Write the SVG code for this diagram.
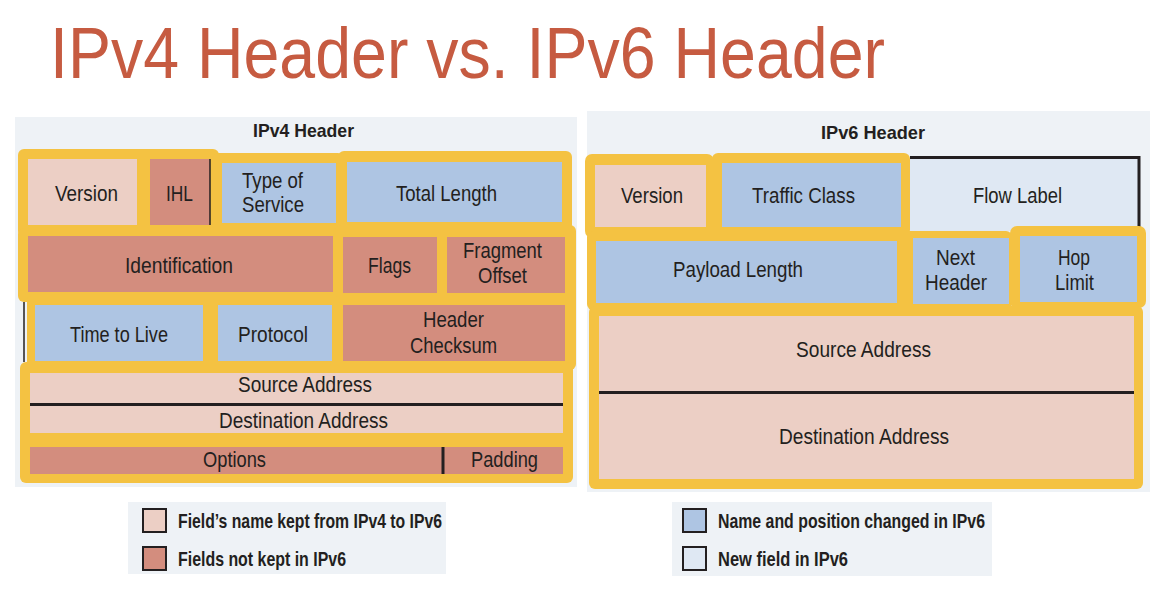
<svg xmlns="http://www.w3.org/2000/svg" width="1174" height="604" viewBox="0 0 1174 604">
  <style>
    .panel { fill: #EEF2F6; }
    .frame { fill: #F4C242; }
    .kept { fill: #ECCFC5; }
    .gone { fill: #D38D7E; }
    .moved { fill: #AEC5E3; }
    .fresh { fill: #DFE8F3; }
    .rule { stroke: #231F20; stroke-width: 3; fill: none; }
    .thin { stroke: #231F20; stroke-width: 1.5; fill: none; }
    .lbl { font-family: "Liberation Sans", Arial, sans-serif; font-size: 22px; fill: #231F20; }
    .head { font-family: "Liberation Sans", Arial, sans-serif; font-size: 19px; font-weight: bold; fill: #231F20; }
    .key { font-family: "Liberation Sans", Arial, sans-serif; font-size: 21px; font-weight: bold; fill: #231F20; }
    .swatch { stroke: #231F20; stroke-width: 2; }
  </style>

  <rect width="1174" height="604" fill="#FFFFFF"/>

  <!-- Slide title -->
  <text id="title" x="50" y="78" font-family="'Liberation Sans', Arial, sans-serif" font-size="73" fill="#C65B41" textLength="835" lengthAdjust="spacingAndGlyphs">IPv4 Header vs. IPv6 Header</text>

  <!-- Panel backgrounds -->
  <rect class="panel" x="15" y="117" width="562" height="370"/>
  <rect class="panel" x="587" y="111" width="563" height="381"/>
  <text class="head" x="253" y="137" textLength="101" lengthAdjust="spacingAndGlyphs">IPv4 Header</text>
  <text class="head" x="821" y="139" textLength="104" lengthAdjust="spacingAndGlyphs">IPv6 Header</text>

  <!-- Yellow grouping frames, IPv4 -->
  <g id="v4-frames">
    <rect class="frame" x="18" y="149" width="201" height="88" rx="6"/>
    <rect class="frame" x="212" y="153" width="132" height="80" rx="6"/>
    <rect class="frame" x="338" y="151" width="234" height="80" rx="6"/>
    <rect class="frame" x="18" y="228" width="322" height="74" rx="6"/>
    <rect class="frame" x="335" y="225" width="241" height="145" rx="6"/>
    <rect class="frame" x="27" y="296" width="313" height="72" rx="4"/>
    <rect class="frame" x="20" y="362" width="553" height="121" rx="6"/>
    <line class="thin" x1="24" y1="302" x2="24" y2="362"/>
  </g>

  <!-- Flow Label sits under the IPv6 frames -->
  <g id="v6-flow-label">
    <rect class="fresh" x="910" y="157" width="229" height="74"/>
    <polyline class="rule" points="910,157.5 1139,157.5 1139,230"/>
    <text class="lbl" x="973" y="203" textLength="89" lengthAdjust="spacingAndGlyphs">Flow Label</text>
  </g>

  <!-- Yellow grouping frames, IPv6 -->
  <g id="v6-frames">
    <rect class="frame" x="585" y="154" width="129" height="84" rx="7"/>
    <rect class="frame" x="712" y="153" width="198" height="83" rx="6"/>
    <rect class="frame" x="587" y="231" width="425" height="79" rx="6"/>
    <rect class="frame" x="1010" y="226" width="136" height="82" rx="7"/>
    <rect class="frame" x="589" y="306" width="554" height="183" rx="6"/>
  </g>

  <!-- IPv4 header fields -->
  <g id="v4-version">
    <rect class="kept" x="28" y="159" width="109" height="66"/>
    <text class="lbl" x="55" y="201" textLength="63" lengthAdjust="spacingAndGlyphs">Version</text>
  </g>
  <g id="v4-ihl">
    <rect class="gone" x="150" y="159" width="60" height="66"/>
    <line class="thin" x1="210" y1="159" x2="210" y2="225" stroke-width="1"/>
    <text class="lbl" x="166" y="201" textLength="27" lengthAdjust="spacingAndGlyphs">IHL</text>
  </g>
  <g id="v4-tos">
    <rect class="moved" x="222" y="163" width="114" height="60"/>
    <text class="lbl" x="242" y="188" textLength="61" lengthAdjust="spacingAndGlyphs">Type of</text>
    <text class="lbl" x="242" y="212" textLength="62" lengthAdjust="spacingAndGlyphs">Service</text>
  </g>
  <g id="v4-total-length">
    <rect class="moved" x="347" y="162" width="215" height="60"/>
    <text class="lbl" x="396" y="201" textLength="101" lengthAdjust="spacingAndGlyphs">Total Length</text>
  </g>
  <g id="v4-identification">
    <rect class="gone" x="28" y="236" width="305" height="56"/>
    <text class="lbl" x="125" y="273" textLength="108" lengthAdjust="spacingAndGlyphs">Identification</text>
  </g>
  <g id="v4-flags">
    <rect class="gone" x="343" y="237" width="94" height="56"/>
    <text class="lbl" x="368" y="273" textLength="43" lengthAdjust="spacingAndGlyphs">Flags</text>
  </g>
  <g id="v4-fragment-offset">
    <rect class="gone" x="447" y="237" width="118" height="56"/>
    <text class="lbl" x="463" y="258" textLength="79" lengthAdjust="spacingAndGlyphs">Fragment</text>
    <text class="lbl" x="478" y="283" textLength="49" lengthAdjust="spacingAndGlyphs">Offset</text>
  </g>
  <g id="v4-ttl">
    <rect class="moved" x="35" y="305" width="168" height="56"/>
    <text class="lbl" x="70" y="342" textLength="98" lengthAdjust="spacingAndGlyphs">Time to Live</text>
  </g>
  <g id="v4-protocol">
    <rect class="moved" x="218" y="305" width="114" height="56"/>
    <text class="lbl" x="238" y="342" textLength="70" lengthAdjust="spacingAndGlyphs">Protocol</text>
  </g>
  <g id="v4-checksum">
    <rect class="gone" x="343" y="305" width="222" height="56"/>
    <text class="lbl" x="423" y="327" textLength="61" lengthAdjust="spacingAndGlyphs">Header</text>
    <text class="lbl" x="410" y="353" textLength="87" lengthAdjust="spacingAndGlyphs">Checksum</text>
  </g>
  <g id="v4-source">
    <rect class="kept" x="30" y="373" width="533" height="31"/>
    <text class="lbl" x="238" y="392" textLength="134" lengthAdjust="spacingAndGlyphs">Source Address</text>
  </g>
  <g id="v4-destination">
    <rect class="kept" x="30" y="404" width="533" height="29"/>
    <text class="lbl" x="219" y="428" textLength="169" lengthAdjust="spacingAndGlyphs">Destination Address</text>
  </g>
  <line class="rule" x1="30" y1="404.5" x2="563" y2="404.5"/>
  <g id="v4-options">
    <rect class="gone" x="30" y="447" width="413" height="27"/>
    <text class="lbl" x="203" y="467" textLength="63" lengthAdjust="spacingAndGlyphs">Options</text>
  </g>
  <g id="v4-padding">
    <rect class="gone" x="443" y="447" width="120" height="27"/>
    <text class="lbl" x="471" y="467" textLength="67" lengthAdjust="spacingAndGlyphs">Padding</text>
  </g>
  <line class="rule" x1="443" y1="447" x2="443" y2="474" stroke-width="2.5"/>

  <!-- IPv6 header fields -->
  <g id="v6-version">
    <rect class="kept" x="595" y="165" width="111" height="62"/>
    <text class="lbl" x="621" y="203" textLength="62" lengthAdjust="spacingAndGlyphs">Version</text>
  </g>
  <g id="v6-traffic-class">
    <rect class="moved" x="722" y="163" width="179" height="64"/>
    <text class="lbl" x="752" y="203" textLength="103" lengthAdjust="spacingAndGlyphs">Traffic Class</text>
  </g>
  <g id="v6-payload-length">
    <rect class="moved" x="596" y="241" width="301" height="62"/>
    <text class="lbl" x="673" y="277" textLength="130" lengthAdjust="spacingAndGlyphs">Payload Length</text>
  </g>
  <g id="v6-next-header">
    <rect class="moved" x="913" y="238" width="96" height="66"/>
    <text class="lbl" x="936" y="265" textLength="39" lengthAdjust="spacingAndGlyphs">Next</text>
    <text class="lbl" x="925" y="290" textLength="62" lengthAdjust="spacingAndGlyphs">Header</text>
  </g>
  <g id="v6-hop-limit">
    <rect class="moved" x="1020" y="236" width="117" height="66"/>
    <text class="lbl" x="1058" y="265" textLength="32" lengthAdjust="spacingAndGlyphs">Hop</text>
    <text class="lbl" x="1055" y="290" textLength="39" lengthAdjust="spacingAndGlyphs">Limit</text>
  </g>
  <g id="v6-source">
    <rect class="kept" x="599" y="316" width="535" height="76"/>
    <text class="lbl" x="796" y="357" textLength="135" lengthAdjust="spacingAndGlyphs">Source Address</text>
  </g>
  <g id="v6-destination">
    <rect class="kept" x="599" y="392" width="535" height="87"/>
    <text class="lbl" x="779" y="444" textLength="170" lengthAdjust="spacingAndGlyphs">Destination Address</text>
  </g>
  <line class="rule" x1="599" y1="392.5" x2="1134" y2="392.5"/>

  <!-- Colour keys -->
  <g id="legend-ipv4">
    <rect class="panel" x="128" y="502" width="318" height="72"/>
    <rect class="kept swatch" x="143" y="509" width="23" height="23"/>
    <text class="key" x="178" y="528" textLength="264" lengthAdjust="spacingAndGlyphs">Field’s name kept from IPv4 to IPv6</text>
    <rect class="gone swatch" x="143" y="547" width="23" height="23"/>
    <text class="key" x="178" y="566" textLength="168" lengthAdjust="spacingAndGlyphs">Fields not kept in IPv6</text>
  </g>
  <g id="legend-ipv6">
    <rect class="panel" x="672" y="502" width="320" height="74"/>
    <rect class="moved swatch" x="683" y="509" width="23" height="23"/>
    <text class="key" x="718" y="528" textLength="267" lengthAdjust="spacingAndGlyphs">Name and position changed in IPv6</text>
    <rect class="fresh swatch" x="683" y="547" width="23" height="23"/>
    <text class="key" x="718" y="566" textLength="130" lengthAdjust="spacingAndGlyphs">New field in IPv6</text>
  </g>
</svg>
